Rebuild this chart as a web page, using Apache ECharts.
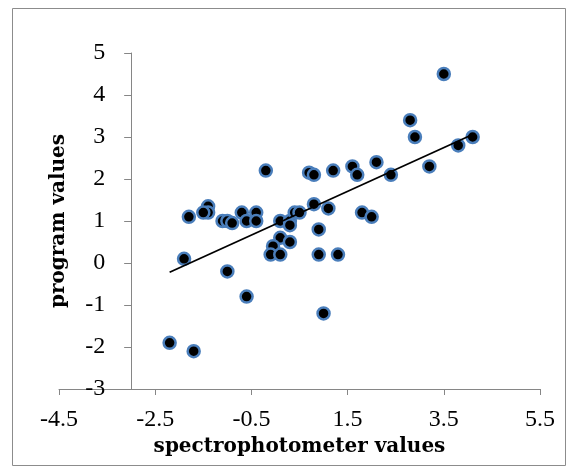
<!DOCTYPE html>
<html>
<head>
<meta charset="utf-8">
<script src="https://cdn.jsdelivr.net/npm/echarts@6/dist/echarts.min.js"></script>
<style>
html,body{margin:0;padding:0;background:#fff;}
#chart{width:578px;height:472px;}
</style>
</head>
<body>
<div id="chart"></div>
<script>
// spectrophotometer values (x) and program values (y)
var xValues = [3.5, 2.8, 2.9, 4.1, 3.8, 3.2, 2.1, 2.4, 1.6, 1.7, 1.2, 1.1, 1.8, 2.0,
  -0.2, 0.7, 0.8, 0.8, -1.4, -1.4, -1.5, -1.8, -1.1, -1.0, -0.9, -0.7, -0.4, -0.6, -0.4,
  0.1, 0.3, 0.3, 0.4, 0.5, 0.9, 0.1, -0.05, 0.3, -0.1, 0.1, 0.9, 1.3, -1.9, -1.0, -0.6,
  1.0, -2.2, -1.7];
var yValues = [4.5, 3.4, 3.0, 3.0, 2.8, 2.3, 2.4, 2.1, 2.3, 2.1, 2.2, 1.3, 1.2, 1.1,
  2.2, 2.15, 2.1, 1.4, 1.35, 1.2, 1.2, 1.1, 1.0, 1.0, 0.95, 1.2, 1.2, 1.0, 1.0,
  1.0, 1.0, 0.9, 1.2, 1.2, 0.8, 0.6, 0.4, 0.5, 0.2, 0.2, 0.2, 0.2, 0.1, -0.2, -0.8,
  -1.2, -1.9, -2.1];
// linear trendline end points
var trendX = [-2.2, 4.1];
var trendY = [-0.22, 3.06];
// axis settings
var xMin = -4.5, xMax = 5.5, xStep = 2;
var yMin = -3, yMax = 5, yStep = 1;
var yAxisCross = -3;

var points = xValues.map(function (x, i) { return [x, yValues[i]]; });
var trend = trendX.map(function (x, i) { return [x, trendY[i]]; });

var gridLeft = 59, gridRight = 38, gridTop = 53, gridBottom = 83;
var plotW = 578 - gridLeft - gridRight;
var yOffset = -plotW * (yAxisCross - xMin) / (xMax - xMin);

var chart = echarts.init(document.getElementById('chart'), null, {renderer: 'canvas'});
var axisColor = '#868686';
var serif = '"Liberation Serif", "DejaVu Serif", serif';
var titleFont = '"DejaVu Serif", "Liberation Serif", serif';
chart.setOption({
  animation: false,
  backgroundColor: '#fff',
  graphic: [{
    type: 'rect',
    shape: {x: 12.5, y: 8.5, width: 553, height: 457},
    style: {fill: 'none', stroke: '#8c8c8c', lineWidth: 1},
    silent: true
  }],
  grid: {left: gridLeft, right: gridRight, top: gridTop, bottom: gridBottom},
  xAxis: {
    type: 'value',
    min: xMin, max: xMax, interval: xStep,
    name: 'spectrophotometer values',
    nameLocation: 'middle',
    nameGap: 46,
    nameTextStyle: {fontFamily: titleFont, fontWeight: 'bold', fontSize: 20, color: '#000'},
    axisLine: {show: true, onZero: false, lineStyle: {color: axisColor, width: 1}},
    axisTick: {show: true, inside: false, length: 6, lineStyle: {color: axisColor}},
    axisLabel: {fontFamily: serif, fontSize: 24, color: '#000', margin: 19,
      formatter: function (v) { return v.toFixed(1); }},
    splitLine: {show: false}
  },
  yAxis: {
    type: 'value',
    min: yMin, max: yMax, interval: yStep,
    offset: yOffset,
    name: 'program values',
    nameLocation: 'middle',
    nameGap: 62,
    nameRotate: 90,
    nameTextStyle: {fontFamily: titleFont, fontWeight: 'bold', fontSize: 20, color: '#000'},
    axisLine: {show: true, onZero: false, lineStyle: {color: axisColor, width: 1}},
    axisTick: {show: true, inside: false, length: 7, lineStyle: {color: axisColor}},
    axisLabel: {fontFamily: serif, fontSize: 24, color: '#000', margin: 26},
    splitLine: {show: false}
  },
  series: [{
    type: 'scatter',
    data: points,
    symbol: 'circle',
    symbolSize: 12,
    itemStyle: {color: '#000', borderColor: '#4a7ebb', borderWidth: 2.5, opacity: 1},
    z: 2
  }, {
    type: 'line',
    data: trend,
    symbol: 'none',
    lineStyle: {color: '#000', width: 1.8},
    z: 3
  }]
});
</script>
</body>
</html>
